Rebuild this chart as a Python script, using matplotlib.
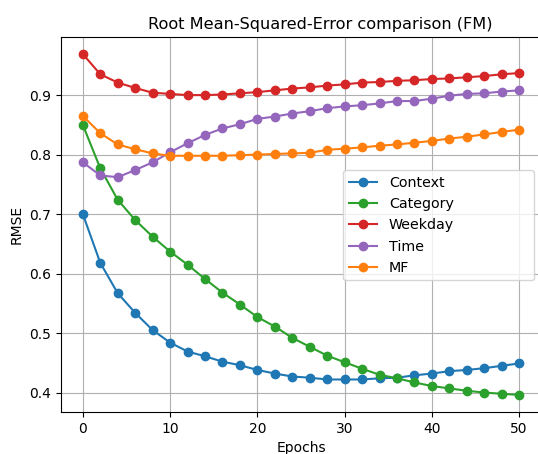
import numpy as np
import matplotlib
matplotlib.use('Agg')
import matplotlib.pyplot as plt

epochs = list(range(0, 51, 2))

context = [0.700, 0.618, 0.567, 0.534, 0.505, 0.484, 0.469, 0.461, 0.452, 0.446, 0.438, 0.432, 0.427,
           0.425, 0.422, 0.422, 0.422, 0.424, 0.425, 0.429, 0.432, 0.436, 0.438, 0.441, 0.445, 0.449]
category = [0.850, 0.777, 0.724, 0.690, 0.662, 0.637, 0.615, 0.591, 0.568, 0.548, 0.527, 0.511, 0.492,
            0.477, 0.462, 0.451, 0.440, 0.430, 0.424, 0.417, 0.411, 0.407, 0.403, 0.400, 0.398, 0.396]
weekday = [0.969, 0.935, 0.921, 0.912, 0.904, 0.902, 0.900, 0.900, 0.901, 0.903, 0.905, 0.908, 0.911,
           0.913, 0.916, 0.918, 0.921, 0.922, 0.924, 0.925, 0.927, 0.928, 0.930, 0.932, 0.935, 0.937]
time = [0.787, 0.765, 0.762, 0.774, 0.787, 0.804, 0.819, 0.833, 0.844, 0.851, 0.860, 0.864, 0.869,
        0.873, 0.878, 0.881, 0.883, 0.886, 0.890, 0.890, 0.894, 0.899, 0.902, 0.903, 0.906, 0.908]
mf = [0.865, 0.836, 0.817, 0.809, 0.802, 0.798, 0.798, 0.798, 0.798, 0.799, 0.800, 0.801, 0.802,
      0.803, 0.808, 0.810, 0.812, 0.815, 0.817, 0.820, 0.823, 0.827, 0.830, 0.834, 0.838, 0.842]

fig = plt.figure(figsize=(5.38, 4.54), dpi=100)
ax = fig.add_axes([61 / 538, 42 / 454, 480 / 538, 375 / 454])

ax.plot(epochs, context, marker='o', color='#1f77b4', label='Context')
ax.plot(epochs, category, marker='o', color='#2ca02c', label='Category')
ax.plot(epochs, weekday, marker='o', color='#d62728', label='Weekday')
ax.plot(epochs, time, marker='o', color='#9467bd', label='Time')
ax.plot(epochs, mf, marker='o', color='#ff7f0e', label='MF')

ax.set_xticks([0, 10, 20, 30, 40, 50])
ax.set_yticks([0.4, 0.5, 0.6, 0.7, 0.8, 0.9])
ax.set_xlabel('Epochs')
ax.set_ylabel('RMSE')
ax.set_title('Root Mean-Squared-Error comparison (FM)', fontsize=11.6, x=0.54)
ax.spines['right'].set_visible(False)
ax.grid(True)
# legend box is wider than its text in the original
ax.legend(loc='center right', bbox_to_anchor=(0.5875, 0.352, 0.3975, 0.291),
          mode='expand', borderaxespad=0, prop={'size': 10.3})

fig.savefig('out.png', dpi=100)
